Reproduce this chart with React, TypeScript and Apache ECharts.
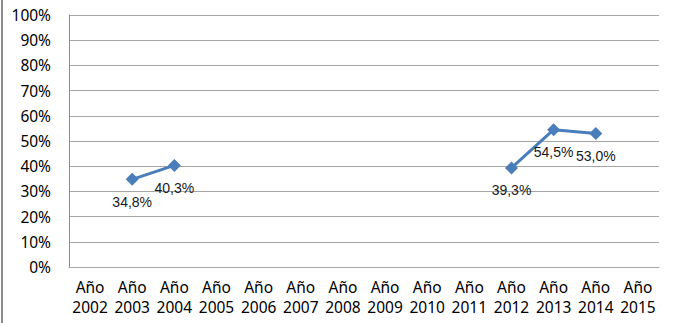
import React, { useEffect, useRef } from "react";
import * as echarts from "echarts";

const categories = [
  "Año\n2002", "Año\n2003", "Año\n2004", "Año\n2005", "Año\n2006", "Año\n2007", "Año\n2008",
  "Año\n2009", "Año\n2010", "Año\n2011", "Año\n2012", "Año\n2013", "Año\n2014", "Año\n2015",
];
const values: (number | null)[] = [
  null, 34.8, 40.3, null, null, null, null, null, null, null, 39.3, 54.5, 53.0, null,
];
const yMin = 0;
const yMax = 100;
const yInterval = 10;

export default function App() {
  const ref = useRef<HTMLDivElement>(null);
  useEffect(() => {
    if (!ref.current) return;
    const chart = echarts.init(ref.current, undefined, { renderer: "svg" });
    chart.setOption({
      animation: false,
      backgroundColor: "#ffffff",
      grid: { left: 69, right: 14, top: 15, bottom: 56, containLabel: false },
      graphic: [
        {
          type: "rect",
          shape: { x: 1, y: 0, width: 2, height: 323 },
          style: { fill: "#8c8c8c" },
        },
      ],
      xAxis: {
        type: "category",
        data: categories,
        boundaryGap: true,
        axisLine: { show: true, lineStyle: { color: "#a6a6a6", width: 1 } },
        axisTick: { show: false },
        axisLabel: {
          interval: 0,
          margin: 10,
          fontFamily: "Noto Sans",
          fontSize: 15.5,
          lineHeight: 20,
          color: "#000000",
        },
      },
      yAxis: {
        type: "value",
        min: yMin,
        max: yMax,
        interval: yInterval,
        axisLine: { show: true, lineStyle: { color: "#8c8c8c", width: 1 } },
        axisTick: { show: false },
        splitLine: { show: true, lineStyle: { color: "#a6a6a6", width: 1 } },
        axisLabel: {
          margin: 18,
          fontFamily: "Noto Sans",
          fontSize: 15.5,
          color: "#000000",
          formatter: (v: number) => `${v}%`,
        },
      },
      series: [
        {
          type: "line",
          data: values,
          connectNulls: false,
          symbol: "diamond",
          symbolSize: 13,
          showAllSymbol: true,
          itemStyle: { color: "#4a7ebb" },
          lineStyle: { color: "#4a7ebb", width: 3 },
          label: {
            show: true,
            position: "bottom",
            distance: 9,
            fontFamily: "Liberation Sans",
            fontSize: 14,
            color: "#1a1a1a",
            formatter: (p: any) => `${p.value.toFixed(1).replace(".", ",")}%`,
          },
        },
      ],
    });
    return () => chart.dispose();
  }, []);
  return (
    <div
      ref={ref}
      style={{ position: "fixed", left: 0, top: 0, width: 673, height: 323 }}
    />
  );
}
